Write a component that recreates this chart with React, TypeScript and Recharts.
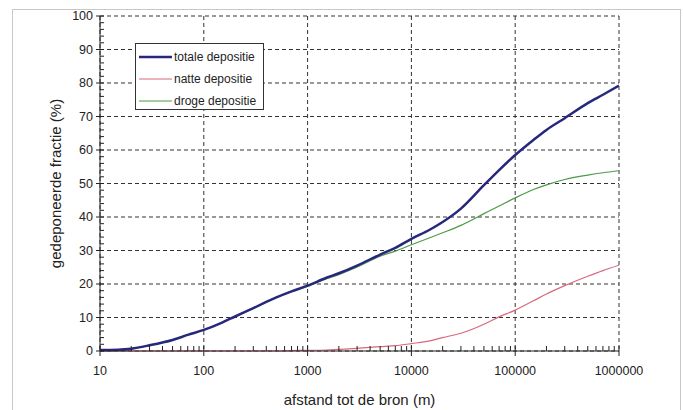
import {LineChart, Line, XAxis, YAxis, CartesianGrid, Legend} from 'recharts';

// afstand (m) en gedeponeerde fractie (%)
const afstand = [10, 15, 20, 30, 50, 70, 100, 150, 200, 300, 500, 700, 1000, 1500, 2000, 3000, 5000, 7000, 10000, 15000, 20000, 30000, 50000, 70000, 100000, 150000, 200000, 300000, 500000, 700000, 1000000];
const totaal = [0.3, 0.4, 0.7, 1.7, 3.3, 4.8, 6.3, 8.5, 10.3, 12.8, 16, 17.8, 19.5, 21.8, 23.2, 25.5, 28.8, 30.8, 33.5, 36.2, 38.5, 42.5, 49.5, 54, 58.5, 63, 66, 69.5, 74, 76.5, 79.2];
const nat = [0, 0, 0, 0, 0, 0, 0, 0, 0, 0, 0, 0.1, 0.2, 0.3, 0.5, 0.8, 1.3, 1.6, 2.2, 3.0, 4.0, 5.3, 8.0, 10.2, 12.2, 15, 17, 19.5, 22.3, 24, 25.6];
const droog = [0.3, 0.4, 0.7, 1.7, 3.3, 4.8, 6.3, 8.5, 10.3, 12.8, 16, 17.7, 19.3, 21.5, 22.8, 25.1, 28.3, 29.8, 31.7, 33.8, 35.3, 37.5, 41, 43.3, 45.7, 48.2, 49.6, 51.2, 52.5, 53.2, 53.8];

const legendOrder = ['totale depositie', 'natte depositie', 'droge depositie'];

const xTicks = [10, 100, 1000, 10000, 100000, 1000000];
const yTicks = [0, 10, 20, 30, 40, 50, 60, 70, 80, 90, 100];
const xMinorTicks = [10, 20, 30, 40, 50, 60, 70, 80, 90, 100, 200, 300, 400, 500, 600, 700, 800, 900, 1000, 2000, 3000, 4000, 5000, 6000, 7000, 8000, 9000, 10000, 20000, 30000, 40000, 50000, 60000, 70000, 80000, 90000, 100000, 200000, 300000, 400000, 500000, 600000, 700000, 800000, 900000, 1000000];
const yMinorTicks = [0, 2, 4, 6, 8, 10, 12, 14, 16, 18, 20, 22, 24, 26, 28, 30, 32, 34, 36, 38, 40, 42, 44, 46, 48, 50, 52, 54, 56, 58, 60, 62, 64, 66, 68, 70, 72, 74, 76, 78, 80, 82, 84, 86, 88, 90, 92, 94, 96, 98, 100];

const data = afstand.map((x, i) => ({x, totaal: totaal[i], nat: nat[i], droog: droog[i]}));

const font = '"Liberation Sans", Arial, sans-serif';
const tickStyle = {fontSize: 12.5, fill: '#222', fontFamily: font};
const titleStyle = {fontSize: 15, fill: '#222', fontFamily: font};

const renderLegend = (props: any) => {
  const items = (props.payload || []).filter((it: any) => legendOrder.includes(it.value))
    .sort((a: any, b: any) => legendOrder.indexOf(a.value) - legendOrder.indexOf(b.value));
  return (
    <div style={{border: '1px solid #333', background: '#fff', width: 129, height: 67, boxSizing: 'border-box', padding: '2px 0 0 3px', fontFamily: font, fontSize: 12, color: '#222', textAlign: 'left'}}>
      {items.map((it: any) => (
        <div key={it.value} style={{display: 'flex', alignItems: 'center', height: 22, whiteSpace: 'nowrap'}}>
          <svg width={34} height={6}><line x1={0} y1={3} x2={33} y2={3} stroke={it.color} strokeWidth={it.value === 'totale depositie' ? 2.5 : 1.2} /></svg>
          <span style={{marginLeft: 1}}>{it.value}</span>
        </div>
      ))}
    </div>
  );
};

export default function App() {
  return (
    <div style={{position: 'absolute', left: 0, top: 0, width: 683, height: 410, background: '#fff', overflow: 'hidden'}}>
      <div style={{position: 'absolute', left: 12, top: 9, width: 667, height: 420, border: '1px solid #c8c8c8'}} />
      <div style={{position: 'absolute', left: 0, top: 0}}>
        <LineChart width={683} height={410} data={data} margin={{top: 16, right: 64, bottom: 0, left: 0}}>
          <CartesianGrid stroke="#333" strokeDasharray="4 3" />
          <XAxis dataKey="x" type="number" scale="log" domain={[10, 1000000]} ticks={xTicks} allowDataOverflow
            height={59} tickSize={5} tickMargin={10} tick={tickStyle} stroke="#222" interval={0}
            label={{value: 'afstand tot de bron (m)', position: 'insideBottom', offset: 5, style: titleStyle}} />
          <XAxis xAxisId="minor" dataKey="x" type="number" scale="log" domain={[10, 1000000]} ticks={xMinorTicks} allowDataOverflow
            mirror tickSize={5} tickFormatter={() => ''} axisLine={false} stroke="#222" interval={0} />
          <YAxis type="number" domain={[0, 100]} ticks={yTicks} width={100} tickSize={4} tickMargin={3} tick={tickStyle} stroke="#222" interval={0}
            label={{value: 'gedeponeerde fractie (%)', angle: -90, position: 'insideLeft', offset: 56, style: {...titleStyle, textAnchor: 'middle'}}} />
          <YAxis yAxisId="minor" type="number" domain={[0, 100]} ticks={yMinorTicks} allowDataOverflow mirror tickSize={4} tickFormatter={() => ''} axisLine={false} stroke="#222" interval={0} />
          <Legend content={renderLegend} layout="vertical" verticalAlign="middle" align="center" wrapperStyle={{left: 135, top: 43, width: 129, height: 67}} />
          {/* onzichtbare lijn zodat de hulpassen met kleine streepjes getekend worden */}
          <Line xAxisId="minor" yAxisId="minor" dataKey="totaal" name="hulp" stroke="none" dot={false} legendType="none" isAnimationActive={false} />
          <Line dataKey="droog" name="droge depositie" stroke="#4c9a48" strokeWidth={1.2} dot={false} type="monotone" isAnimationActive={false} />
          <Line dataKey="nat" name="natte depositie" stroke="#d8687e" strokeWidth={1.2} dot={false} type="monotone" isAnimationActive={false} />
          <Line dataKey="totaal" name="totale depositie" stroke="#27287c" strokeWidth={2.5} dot={false} type="monotone" isAnimationActive={false} />
        </LineChart>
      </div>
    </div>
  );
}
